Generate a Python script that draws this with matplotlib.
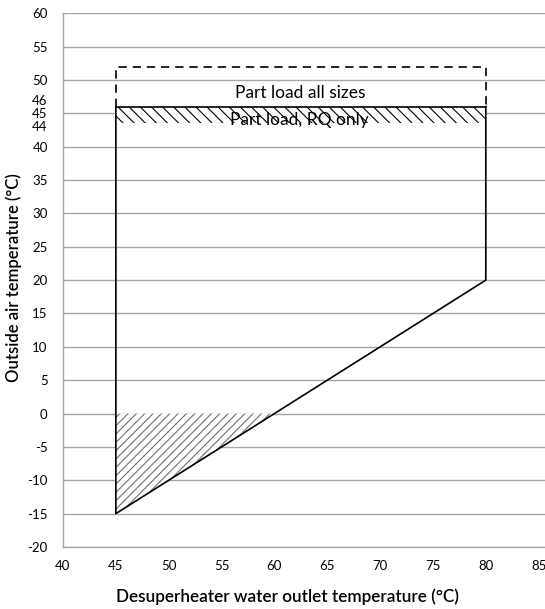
import matplotlib.pyplot as plt
import matplotlib.transforms as mtransforms
from matplotlib.patches import Polygon, Rectangle

plt.rcParams['font.family'] = ['Lato', 'DejaVu Sans']
plt.rcParams['axes.unicode_minus'] = False
plt.rcParams['hatch.linewidth'] = 0.8

# operating envelope (desuperheater outlet temp, outside air temp)
envelope_x = [45, 45, 80, 80]
envelope_y = [46, -15, 20, 46]
# part load all sizes (dashed extension)
part_load_x = [45, 45, 80, 80]
part_load_y = [46, 52, 52, 46]
# part load RQ only band
rq_x = (45, 80)
rq_y = (43.5, 46)
# hatched low-temperature triangle
low_x = [45, 45, 60]
low_y = [0, -15, 0]

x_ticks = [40, 45, 50, 55, 60, 65, 70, 75, 80, 85]
grid_y = [-20, -15, -10, -5, 0, 5, 10, 15, 20, 25, 30, 35, 40, 45, 50, 55, 60]
extra_y = [44, 46]

fig = plt.figure(figsize=(5.45, 6.09), dpi=100)
ax = fig.add_axes([0.1156, 0.1018, 0.8844, 0.8764])

ax.set_xlim(40, 85.6)
ax.set_ylim(-20, 60)

ax.add_patch(Polygon(list(zip(low_x, low_y)), closed=True, facecolor='white',
                     edgecolor='#6f6f6f', hatch='////', linewidth=0, zorder=2))
ax.add_patch(Rectangle((rq_x[0], rq_y[0]), rq_x[1] - rq_x[0], rq_y[1] - rq_y[0],
                       facecolor='white', edgecolor='black', hatch='\\\\\\',
                       linewidth=0, zorder=2))

ax.plot(envelope_x, envelope_y, color='black', linewidth=1.2, zorder=3)
ax.plot([rq_x[0], rq_x[1]], [rq_y[1], rq_y[1]], color='black', linewidth=1.2, zorder=3)
ax.plot(part_load_x, part_load_y, color='black', linewidth=1.2,
        linestyle=(0, (5, 3.5)), zorder=3)

ax.text(62.4, 48.1, 'Part load all sizes', ha='center', va='center', fontsize=12.5, zorder=4)
ax.text(62.4, 44.0, 'Part load, RQ only', ha='center', va='center', fontsize=12.5, zorder=4)

ax.set_xticks(x_ticks)
ax.set_yticks(sorted(grid_y + extra_y))
ax.tick_params(axis='x', length=0, labelsize=9.5, pad=9, colors='black')
ax.tick_params(axis='y', length=0, labelsize=9.5, pad=11, colors='black')
ax.grid(axis='y', color='#a6a6a6', linewidth=1)
ax.set_axisbelow(True)
# hide gridlines for the 44 / 46 helper ticks
for val, gl in zip(ax.get_yticks(), ax.yaxis.get_gridlines()):
    if val in extra_y:
        gl.set_visible(False)
# spread the crowded 44 / 45 / 46 labels
for val, lab in zip(ax.get_yticks(), ax.get_yticklabels()):
    if val == 46:
        lab.set_transform(lab.get_transform() + mtransforms.ScaledTranslation(0, 0.07, fig.dpi_scale_trans))
    elif val == 44:
        lab.set_transform(lab.get_transform() + mtransforms.ScaledTranslation(0, -0.06, fig.dpi_scale_trans))

for side in ['top', 'right']:
    ax.spines[side].set_visible(False)
for side in ['left', 'bottom']:
    ax.spines[side].set_color('#a6a6a6')
    ax.spines[side].set_linewidth(1)

ax.set_xlabel('Desuperheater water outlet temperature (°C)', fontsize=12.3,
              fontweight='semibold')
ax.xaxis.set_label_coords(0.466, -0.078)
ax.set_ylabel('Outside air temperature (°C)', fontsize=12,
              fontweight='semibold')
ax.yaxis.set_label_coords(-0.085, 0.505)

fig.savefig('out.png', dpi=100)
